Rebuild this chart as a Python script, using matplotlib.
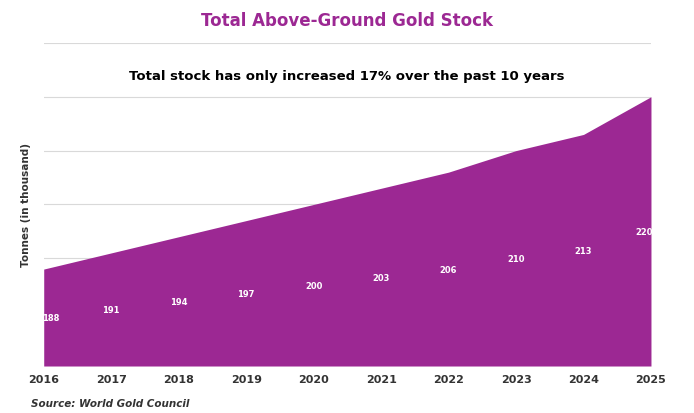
import numpy as np
import matplotlib.pyplot as plt

years = [2016, 2017, 2018, 2019, 2020, 2021, 2022, 2023, 2024, 2025]
stock = [188, 191, 194, 197, 200, 203, 206, 210, 213, 220]

purple = '#9c2893'
base = 170

fig = plt.figure(figsize=(6.94, 4.14), dpi=100)
ax = fig.add_axes([0.063, 0.1135, 0.875, 0.7805])
ax.fill_between(years, stock, base, color=purple, lw=0, zorder=2)
ax.set_xlim(years[0], years[-1])
ax.set_ylim(base, 230)
ax.set_yticks(np.arange(170, 231, 10))
ax.set_yticklabels([])
ax.tick_params(axis='y', length=0)
ax.tick_params(axis='x', length=0, pad=6)
ax.set_xticks(years)
ax.set_xticklabels([str(y) for y in years], fontsize=8, fontweight='bold', color='#333333')
ax.grid(axis='y', color='#d9d9d9', lw=0.8, zorder=0)
for s in ax.spines.values():
    s.set_visible(False)

for x, v in zip(years, stock):
    ax.text(x + (0.1 if x == years[0] else -0.1 if x == years[-1] else 0), (v + base) / 2, str(v),
            color='white', fontsize=6, fontweight='bold', ha='center', va='center', zorder=3)

ax.set_ylabel('Tonnes (in thousand)', fontsize=7.5, fontweight='bold', color='#333333', labelpad=6)

fig.text(0.5, 0.95, 'Total Above-Ground Gold Stock', ha='center', va='center',
         fontsize=12, fontweight='bold', color=purple)
fig.text(0.5, 0.815, 'Total stock has only increased 17% over the past 10 years', ha='center',
         va='center', fontsize=9.5, fontweight='bold', color='black')
fig.text(0.045, 0.025, 'Source: World Gold Council', ha='left', va='center',
         fontsize=7.5, fontweight='bold', fontstyle='italic', color='#333333')

fig.savefig('out.png', dpi=100, facecolor='white')
